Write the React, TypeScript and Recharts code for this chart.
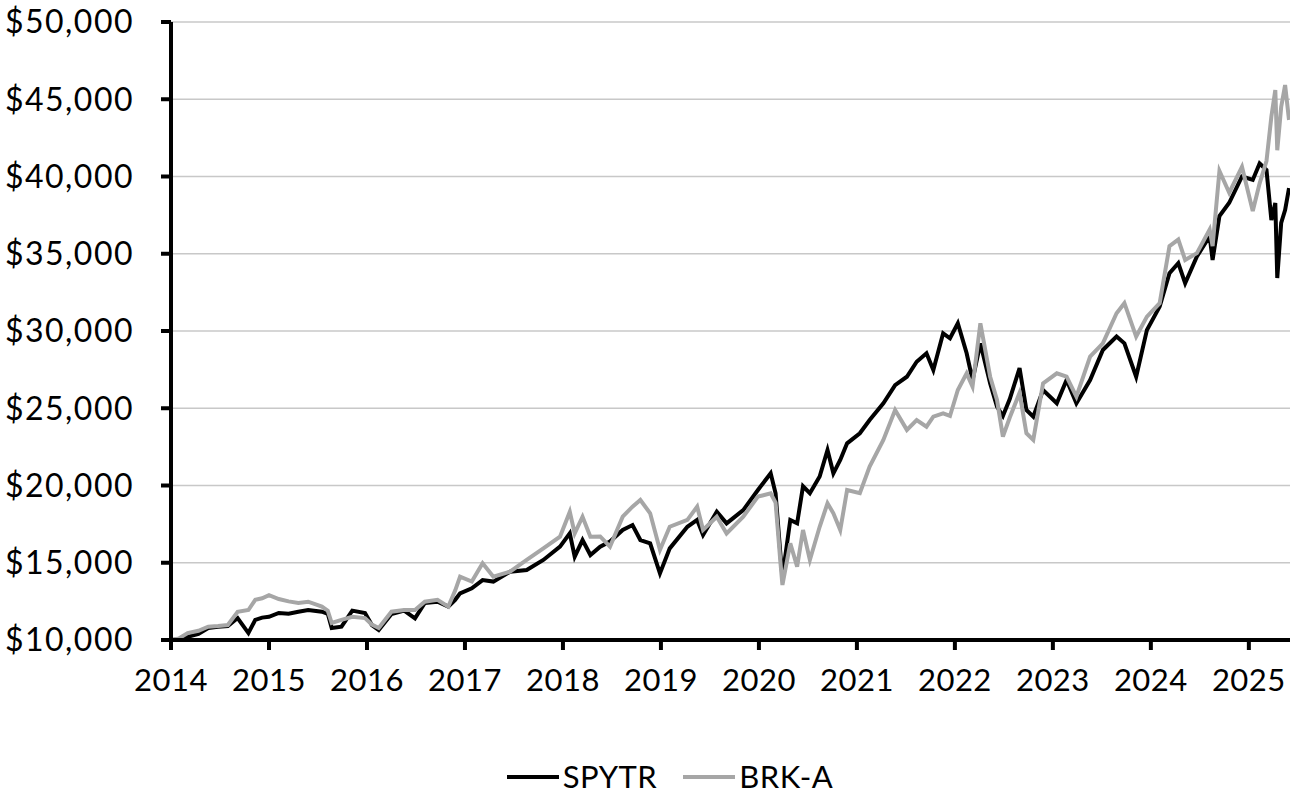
import React from 'react';
import { LineChart, Line, XAxis, YAxis, CartesianGrid } from 'recharts';

// decimal years
const dates = [
  2014.0, 2014.08, 2014.17, 2014.28, 2014.38, 2014.48, 2014.58, 2014.68, 2014.79, 2014.86, 2014.93,
  2015.0, 2015.1, 2015.2, 2015.3, 2015.4, 2015.54, 2015.6, 2015.64, 2015.74, 2015.85, 2015.98,
  2016.05, 2016.12, 2016.25, 2016.38, 2016.49, 2016.59, 2016.72, 2016.83, 2016.9, 2016.95,
  2017.07, 2017.18, 2017.29, 2017.46, 2017.63, 2017.8, 2017.97,
  2018.07, 2018.12, 2018.2, 2018.28, 2018.38, 2018.48, 2018.61, 2018.71, 2018.79, 2018.89, 2018.99,
  2019.09, 2019.27, 2019.37, 2019.43, 2019.57, 2019.67, 2019.84, 2019.99,
  2020.12, 2020.17, 2020.22, 2020.24, 2020.32, 2020.39, 2020.45, 2020.52, 2020.62, 2020.7, 2020.76, 2020.83, 2020.9,
  2021.03, 2021.13, 2021.27, 2021.39, 2021.51, 2021.61, 2021.71, 2021.78, 2021.88, 2021.95,
  2022.03, 2022.12, 2022.18, 2022.26, 2022.36, 2022.43, 2022.49, 2022.56, 2022.66, 2022.73, 2022.8, 2022.9,
  2023.04, 2023.14, 2023.24, 2023.38, 2023.51, 2023.65, 2023.73, 2023.85, 2023.96,
  2024.09, 2024.19, 2024.28, 2024.35, 2024.47, 2024.6, 2024.63, 2024.7, 2024.8, 2024.93,
  2025.04, 2025.11, 2025.18, 2025.23, 2025.27, 2025.29, 2025.33, 2025.37, 2025.41,
];

const spytr = [
  10000, 10050, 10200, 10400, 10780, 10850, 10900, 11420, 10450, 11300, 11450,
  11500, 11750, 11700, 11830, 11940, 11830, 11700, 10780, 10860, 11900, 11750,
  10970, 10650, 11680, 11900, 11400, 12400, 12480, 12160, 12600, 13020,
  13350, 13880, 13780, 14420, 14530, 15180, 16040,
  16900, 15390, 16470, 15500, 16040, 16370, 17120, 17440, 16470, 16250, 14310,
  15930, 17330, 17770, 16800, 18300, 17550, 18410, 19710,
  20790, 19500, 15500, 14100, 17770, 17550, 19950, 19500, 20580, 22300, 20790, 21650, 22730,
  23380, 24240, 25320, 26500, 27040, 28010, 28560, 27480, 29850, 29530,
  30500, 28560, 26830, 29200, 26610, 25100, 24500, 25600, 27600, 24890, 24460, 26180,
  25320, 26830, 25320, 26830, 28770, 29640, 29200, 27040, 30070,
  31580, 33740, 34390, 33090, 34820, 36140, 34600, 37440, 38300, 40000,
  39780, 40840, 40420, 37180, 38280, 33430, 37000, 37830, 39250,
];

const brka = [
  10000, 10100, 10450, 10600, 10860, 10900, 10970, 11830, 11940, 12600, 12700,
  12900, 12650, 12500, 12400, 12480, 12160, 11900, 11100, 11300, 11500, 11420,
  11000, 10780, 11830, 11940, 11940, 12480, 12600, 12160, 13200, 14100,
  13780, 14970, 14100, 14420, 15180, 15930, 16690,
  18300, 16900, 17980, 16690, 16700, 16040, 17980, 18630, 19060, 18200, 15830,
  17330, 17770, 18630, 17120, 17980, 16900, 17980, 19280,
  19490, 18900, 15000, 13560, 16260, 14750, 17120, 15180, 17330, 18850, 18200, 17120, 19710,
  19500, 21220, 22950, 24890, 23600, 24240, 23810, 24460, 24670, 24500,
  26180, 27260, 26400, 30500, 27040, 25530, 23160, 24400, 26000, 23380, 22950, 26610,
  27260, 27040, 25750, 28340, 29200, 31150, 31800, 29640, 30930,
  31800, 35490, 35920, 34600, 35040, 36570, 35500, 40360, 38950, 40620,
  37770, 39560, 41000, 43880, 45600, 41700, 44500, 45920, 43660,
];

const yearTicks = [2014, 2015, 2016, 2017, 2018, 2019, 2020, 2021, 2022, 2023, 2024, 2025];
const valueTicks = [10000, 15000, 20000, 25000, 30000, 35000, 40000, 45000, 50000];
const seriesNames = ['SPYTR', 'BRK-A'];
const seriesColors = ['#000000', '#a6a6a6'];

const chartData = dates.map((t, i) => ({ t, SPYTR: spytr[i], 'BRK-A': brka[i] }));

const FONT = 'Lato, "Open Sans", sans-serif';

export default function App() {
  return (
    <div style={{ position: 'relative', width: 1294, height: 795, fontFamily: FONT, overflow: 'hidden' }}>
      <style>{'body{margin:0;background:#fff}'}</style>
      <LineChart
        width={1294}
        height={795}
        data={chartData}
        margin={{ top: 22, right: 4, bottom: 95, left: 0 }}
      >
        <CartesianGrid vertical={false} stroke="#c8c8c8" strokeWidth={1.5} />
        <XAxis
          dataKey="t"
          type="number"
          domain={[2014, 2025.42]}
          ticks={yearTicks}
          allowDataOverflow
          height={60}
          stroke="#000"
          strokeWidth={4}
          tickSize={10}
          tickMargin={19}
          tick={{ fill: '#000', fontSize: 31, fontFamily: FONT, letterSpacing: 0.5 }}
        />
        <YAxis
          type="number"
          domain={[10000, 50000]}
          ticks={valueTicks}
          width={171}
          stroke="#000"
          strokeWidth={4}
          tickSize={10}
          tickMargin={27}
          tick={{ fill: '#000', fontSize: 32, fontFamily: FONT, letterSpacing: 1.5 }}
          tickFormatter={(v: number) => '$' + v.toLocaleString('en-US')}
        />
        {seriesNames.map((name, i) => (
          <Line
            key={name}
            dataKey={name}
            stroke={seriesColors[i]}
            strokeWidth={4}
            dot={false}
            isAnimationActive={false}
          />
        ))}
      </LineChart>
      <div
        style={{
          position: 'absolute',
          top: 758,
          left: 0,
          width: 1294,
          height: 37,
          display: 'flex',
          justifyContent: 'center',
          alignItems: 'center',
          fontSize: 31,
          lineHeight: '37px',
          color: '#000',
          paddingLeft: 46,
          boxSizing: 'border-box',
        }}
      >
        {seriesNames.map((name, i) => (
          <span key={name} style={{ display: 'flex', alignItems: 'center', marginLeft: i ? 26 : 0, letterSpacing: 0.5 }}>
            <svg width={52} height={10} style={{ marginRight: 4 }}>
              <line x1={0} y1={5} x2={52} y2={5} stroke={seriesColors[i]} strokeWidth={4} />
            </svg>
            {name}
          </span>
        ))}
      </div>
    </div>
  );
}
